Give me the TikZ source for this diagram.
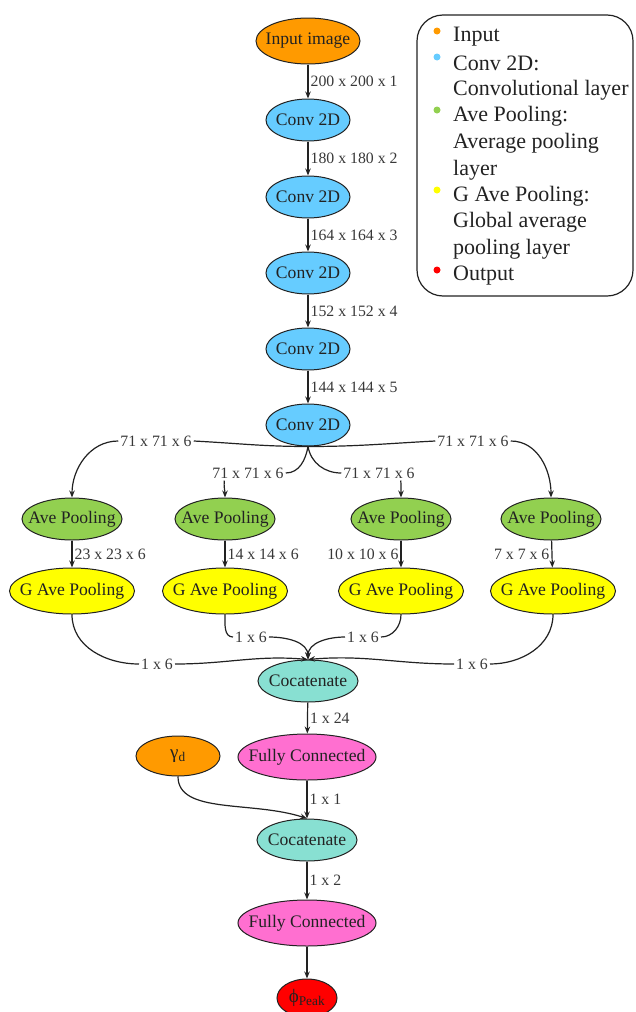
\documentclass[tikz,border=0pt]{standalone}
\usepackage{fontspec}
\setmainfont{Liberation Serif}
\usetikzlibrary{shapes.geometric,arrows.meta}
\definecolor{cinput}{HTML}{FF9A00}
\definecolor{cconv}{HTML}{66CCFF}
\definecolor{cave}{HTML}{92D050}
\definecolor{cgave}{HTML}{FFFF00}
\definecolor{ccat}{HTML}{88E0D2}
\definecolor{cfc}{HTML}{FF6FD0}
\definecolor{cout}{HTML}{FF0000}
\definecolor{ink}{HTML}{222222}
\newcommand\zw[1]{\makebox[0pt]{#1}}
\begin{document}
\begin{tikzpicture}[x=1pt,y=1pt,
  lay/.style={ellipse,draw=ink,line width=1pt,inner sep=0pt,text=ink,font=\fontsize{17.6}{20}\selectfont},
  conv/.style={lay,fill=cconv,minimum width=84pt,minimum height=42pt},
  ave/.style={lay,fill=cave,minimum width=100pt,minimum height=42pt},
  gave/.style={lay,fill=cgave,minimum width=125pt,minimum height=46pt},
  cat/.style={lay,fill=ccat,minimum width=100pt,minimum height=42pt},
  fcl/.style={lay,fill=cfc,minimum width=138pt,minimum height=46pt},
  lab/.style={inner sep=2pt,text=ink!90,font=\fontsize{15.8}{18}\selectfont},
  arr/.style={-{Stealth[length=7pt,width=5.5pt]},line width=1.2pt,draw=ink},
  ln/.style={line width=1.2pt,draw=ink},
  leg/.style={anchor=west,inner sep=0pt,text=ink,font=\fontsize{22}{26}\selectfont},
  dot/.style={circle,inner sep=0pt,minimum size=7pt}
]
\useasboundingbox (0,0) rectangle (635,-1012);

% nodes
\node[lay,fill=cinput,minimum width=104pt,minimum height=46pt] (in) at (308,-41) {\zw{Input image}};
\node[conv] (c1) at (308,-120) {\zw{Conv 2D}};
\node[conv] (c2) at (308,-197) {\zw{Conv 2D}};
\node[conv] (c3) at (308,-273) {\zw{Conv 2D}};
\node[conv] (c4) at (308,-349) {\zw{Conv 2D}};
\node[conv] (c5) at (308,-425) {\zw{Conv 2D}};
\node[ave] (ap1) at (72,-519) {\zw{Ave Pooling}};
\node[ave] (ap2) at (225,-519) {\zw{Ave Pooling}};
\node[ave] (ap3) at (401,-519) {\zw{Ave Pooling}};
\node[ave] (ap4) at (551,-519) {\zw{Ave Pooling}};
\node[gave] (gp1) at (72,-591) {\zw{G Ave Pooling}};
\node[gave] (gp2) at (225,-591) {\zw{G Ave Pooling}};
\node[gave] (gp3) at (401,-591) {\zw{G Ave Pooling}};
\node[gave] (gp4) at (553,-591) {\zw{G Ave Pooling}};
\node[cat] (cc1) at (308,-681) {\zw{Cocatenate}};
\node[fcl] (fc1) at (307,-757) {\zw{Fully Connected}};
\node[lay,fill=cinput,minimum width=84pt,minimum height=40pt] (gd) at (178,-756) {\zw{\fontsize{19}{20}\selectfont γ\textsubscript{d}}};
\node[cat] (cc2) at (307,-840) {\zw{Cocatenate}};
\node[fcl] (fc2) at (307,-923) {\zw{Fully Connected}};
\node[lay,fill=cout,minimum width=60pt,minimum height=38pt] (out) at (307,-998) {\zw{\fontsize{19}{20}\selectfont ϕ\textsubscript{Peak}}};

% main column
\draw[arr] (in) -- node[lab,right] {200 x 200 x 1} (c1);
\draw[arr] (c1) -- node[lab,right] {180 x 180 x 2} (c2);
\draw[arr] (c2) -- node[lab,right] {164 x 164 x 3} (c3);
\draw[arr] (c3) -- node[lab,right] {152 x 152 x 4} (c4);
\draw[arr] (c4) -- node[lab,right] {144 x 144 x 5} (c5);

% branch labels
\node[lab] (L1) at (156,-441) {71 x 71 x 6};
\node[lab] (L2) at (248,-473) {71 x 71 x 6};
\node[lab] (L3) at (379,-473) {71 x 71 x 6};
\node[lab] (L4) at (473,-441) {71 x 71 x 6};
\draw[ln] (c5.south) to[out=180,in=-3] (L1.east);
\draw[arr] (L1.west) to[out=180,in=90] (ap1.north);
\draw[ln] (c5.south) to[out=-100,in=0] (L2.east);
\draw[arr] ([xshift=14pt]L2.south west) to[out=-95,in=90] (ap2.north);
\draw[ln] (c5.south) to[out=-80,in=180] (L3.west);
\draw[arr] ([xshift=-16pt]L3.south east) to[out=-85,in=90] (ap3.north);
\draw[ln] (c5.south) to[out=0,in=183] (L4.west);
\draw[arr] (L4.east) to[out=0,in=90] (ap4.north);

% pooling
\draw[arr] (ap1) -- node[lab,right] {23 x 23 x 6} (gp1);
\draw[arr] (ap2) -- node[lab,right] {14 x 14 x 6} (gp2);
\draw[arr] (ap3) -- node[lab,left] {10 x 10 x 6} (gp3);
\draw[arr] (ap4) -- node[lab,left] {7 x 7 x 6} (gp4);

% merge
\node[lab] (M1) at (157,-664) {1 x 6};
\node[lab] (M2) at (251,-637) {1 x 6};
\node[lab] (M3) at (363,-637) {1 x 6};
\node[lab] (M4) at (472,-664) {1 x 6};
\draw[ln] (gp1.south) to[out=-90,in=180] (M1.west);
\draw[arr] (M1.east) to[out=0,in=175] (cc1.north);
\draw[ln] (gp2.south) to[out=-90,in=180] (M2.west);
\draw[arr] (M2.east) to[out=0,in=90] (cc1.north);
\draw[ln] (gp3.south) to[out=-90,in=0] (M3.east);
\draw[arr] (M3.west) to[out=180,in=90] (cc1.north);
\draw[ln] (gp4.south) to[out=-90,in=0] (M4.east);
\draw[arr] (M4.west) to[out=180,in=5] (cc1.north);

% tail
\draw[arr] (cc1) -- node[lab,right] {1 x 24} (fc1);
\draw[arr] (fc1) -- node[lab,right] {1 x 1} (cc2);
\draw[arr] (gd.south) .. controls +(0,-38) and +(-55,18) .. (cc2.north);
\draw[arr] (cc2) -- node[lab,right] {1 x 2} (fc2);
\draw[arr] (fc2) -- (out);

% legend
\draw[line width=1.2pt,draw=ink,rounded corners=26pt] (417,-15) rectangle (633,-296);
\node[dot,fill=cinput] (d1) at (437,-31) {};
\node[leg] (t1) at (453,-37) {Input};
\node[dot,fill=cconv] (d2) at (437,-57) {};
\node[leg] (t2) at (453,-63) {Conv 2D:};
\node[leg] (t3) at (453,-90) {Convolutional layer};
\node[dot,fill=cave] (d3) at (437,-110) {};
\node[leg] (t4) at (453,-116) {Ave Pooling:};
\node[leg] (t5) at (453,-143) {Average pooling};
\node[leg] (t6) at (453,-170) {layer};
\node[dot,fill=cgave] (d4) at (437,-190) {};
\node[leg] (t7) at (453,-196) {G Ave Pooling:};
\node[leg] (t8) at (453,-222) {Global average};
\node[leg] (t9) at (453,-249) {pooling layer};
\node[dot,fill=cout] (d5) at (437,-270) {};
\node[leg] (t10) at (453,-276) {Output};
\end{tikzpicture}
\end{document}
